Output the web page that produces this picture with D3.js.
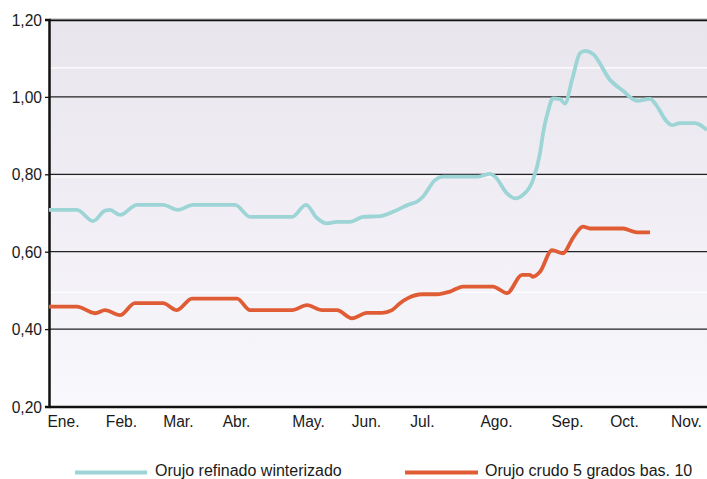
<!DOCTYPE html>
<html><head><meta charset="utf-8">
<script src="https://cdn.jsdelivr.net/npm/d3@7"></script>
<style>body{margin:0;background:#fff}svg{display:block}text{font-family:"Liberation Sans",Arial,sans-serif;fill:#1a1a1a}</style>
</head><body><div id="c"></div>
<script>
// x in weeks (0..47)
const monthLabels = ["Ene.","Feb.","Mar.","Abr.","May.","Jun.","Jul.","Ago.","Sep.","Oct.","Nov."];
const monthPos = [1.0,5.14,9.2,13.36,18.5,22.64,26.64,31.93,37.0,41.07,45.5];
const yTicks = [0.2,0.4,0.6,0.8,1.0,1.2];
const whiteLines = [1.075,0.793,0.495];
const seriesNames = ["Orujo refinado winterizado","Orujo crudo 5 grados bas. 10"];
const refinadoX = [0,2,3.14,4,4.36,5.07,6.29,8.14,9.21,10.29,13.29,14.36,17.36,18.36,19.14,19.86,20.57,21.5,22.43,23.64,24.57,25.64,26.36,26.71,27.57,28.14,30.64,31.5,31.86,32.71,33.29,33.86,34.57,35.07,35.29,35.64,36.0,36.5,36.86,37.36,37.93,38.29,38.86,40.07,41.0,42.0,42.93,43.29,44.14,44.5,45.07,46.14,47];
const refinadoY = [0.708,0.708,0.679,0.706,0.708,0.695,0.721,0.721,0.708,0.721,0.721,0.690,0.690,0.721,0.687,0.673,0.677,0.677,0.690,0.692,0.703,0.721,0.731,0.742,0.785,0.794,0.794,0.801,0.794,0.751,0.738,0.747,0.785,0.854,0.906,0.962,0.996,0.994,0.983,1.044,1.113,1.119,1.111,1.044,1.016,0.990,0.995,0.983,0.936,0.927,0.932,0.932,0.914];
const crudoX = [0,2,3.29,4,5.07,6.14,8.14,9.14,10.21,13.43,14.36,17.36,18.43,19.5,20.57,21.64,22.71,23.79,24.5,25.07,25.64,26.64,27.71,28.64,29.57,31.71,32.71,33.79,34.36,34.57,35.07,35.93,36.71,37.43,38.14,38.64,41.0,42.0,42.93];
const crudoY = [0.458,0.458,0.441,0.449,0.436,0.467,0.467,0.449,0.479,0.479,0.449,0.449,0.462,0.449,0.449,0.428,0.442,0.442,0.449,0.467,0.480,0.490,0.490,0.497,0.510,0.510,0.493,0.540,0.540,0.535,0.548,0.604,0.596,0.636,0.665,0.660,0.660,0.650,0.650];

const W=707,H=479, L=49, R=707, T=19.5, B=406.5;
const x=d3.scaleLinear().domain([0,47]).range([L,R]);
const y=d3.scaleLinear().domain([0.2,1.2]).range([B,T]);
const svg=d3.select("#c").append("svg").attr("width",W).attr("height",H);
const defs=svg.append("defs");
const g=defs.append("linearGradient").attr("id","bg").attr("x1",0).attr("y1",0).attr("x2",0).attr("y2",1);
g.append("stop").attr("offset","0%").attr("stop-color","#e8e5ed");
g.append("stop").attr("offset","100%").attr("stop-color","#f9f8fc");
svg.append("rect").attr("x",L).attr("y",T).attr("width",R-L).attr("height",B-T).attr("fill","url(#bg)");
svg.selectAll(".wl").data(whiteLines).join("line").attr("x1",L).attr("x2",R)
  .attr("y1",d=>y(d)).attr("y2",d=>y(d)).attr("stroke","#fff").attr("stroke-width",1.2);
svg.selectAll(".gl").data(yTicks.filter(d=>d>0.2&&d<1.2)).join("line").attr("x1",L).attr("x2",R)
  .attr("y1",d=>y(d)).attr("y2",d=>y(d)).attr("stroke","#222").attr("stroke-width",1.3);
svg.append("line").attr("x1",L).attr("x2",R).attr("y1",T-0.5).attr("y2",T-0.5).attr("stroke","#aaa").attr("stroke-width",1);
svg.append("line").attr("x1",L).attr("x2",R).attr("y1",T+0.8).attr("y2",T+0.8).attr("stroke","#111").attr("stroke-width",1.8);

const yAxis=d3.axisLeft(y).tickValues(yTicks).tickSize(4).tickPadding(3).tickFormat(d=>d3.format(".2f")(d).replace(".",","));
const ya=svg.append("g").attr("transform",`translate(${L},0)`).call(yAxis);
ya.select(".domain").attr("stroke","#111").attr("stroke-width",2.5);
ya.selectAll(".tick line").attr("stroke","#111").attr("stroke-width",1.3);
ya.selectAll("text").style("font-size","15.6px").attr("fill","#1a1a1a").attr("dy","0.36em");

const xAxis=d3.axisBottom(x).tickValues(monthPos).tickSize(0).tickPadding(9).tickFormat((d,i)=>monthLabels[i]);
const xa=svg.append("g").attr("transform",`translate(0,${B})`).call(xAxis);
xa.select(".domain").attr("stroke","#111").attr("stroke-width",2.5);
xa.selectAll("text").style("font-size","15.6px").attr("fill","#1a1a1a");

const line=d3.line().x(d=>x(d[0])).y(d=>y(d[1])).curve(d3.curveMonotoneX);
const colors=["#9dd5d7","#e05c35"];
const data=[refinadoX.map((v,i)=>[v,refinadoY[i]]), crudoX.map((v,i)=>[v,crudoY[i]])];
svg.selectAll(".ser").data(data).join("path").attr("d",line).attr("fill","none")
  .attr("stroke",(d,i)=>colors[i]).attr("stroke-width",3.8).attr("stroke-linejoin","round");

const leg=[{x1:75,x2:147,tx:155},{x1:405,x2:478,tx:485}];
leg.forEach((l,i)=>{
  svg.append("line").attr("x1",l.x1).attr("x2",l.x2).attr("y1",472.5).attr("y2",472.5).attr("stroke",colors[i]).attr("stroke-width",4);
  svg.append("text").attr("x",l.tx).attr("y",475.5).style("font-size","16px").text(seriesNames[i]);
});
</script></body></html>
